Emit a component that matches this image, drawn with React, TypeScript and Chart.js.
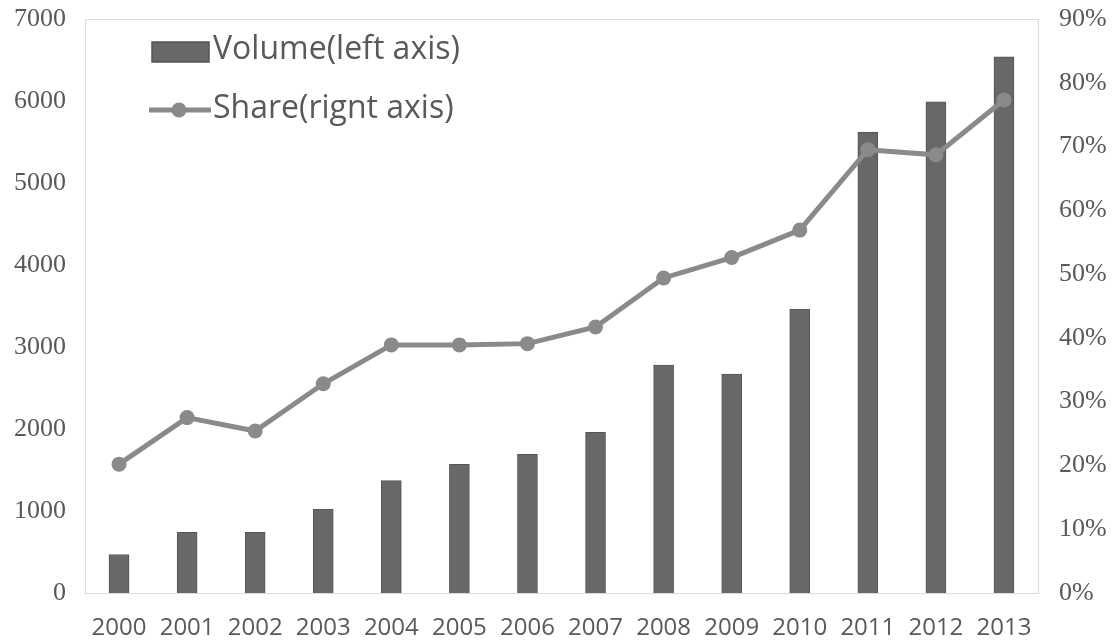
import React, { useEffect, useRef } from "react";
import { Chart, registerables } from "chart.js";

Chart.register(...registerables);

const years = ["2000", "2001", "2002", "2003", "2004", "2005", "2006", "2007", "2008", "2009", "2010", "2011", "2012", "2013"];
const volume = [470, 740, 740, 1020, 1370, 1570, 1690, 1960, 2780, 2670, 3460, 5620, 5990, 6540];
const share = [20.2, 27.5, 25.4, 32.8, 38.9, 38.9, 39.1, 41.7, 49.4, 52.6, 56.9, 69.5, 68.7, 77.3];
const volumeLabel = "Volume(left axis)";
const shareLabel = "Share(rignt axis)";

const BAR_FILL = "#686868";
const BAR_EDGE = "#555555";
const LINE_COLOR = "#8a8a8a";
const TEXT_COLOR = "#595959";

// Frame around the plot area plus the legend drawn inside it, top left.
const framePlugin = {
  id: "frameAndLegend",
  beforeDatasetsDraw(chart: any) {
    const { ctx, chartArea } = chart;
    ctx.save();
    ctx.strokeStyle = "#dcdcdc";
    ctx.lineWidth = 1;
    ctx.strokeRect(chartArea.left + 0.5, chartArea.top + 0.5, chartArea.right - chartArea.left, chartArea.bottom - chartArea.top);
    ctx.restore();
  },
  afterDraw(chart: any) {
    const { ctx } = chart;
    const ds = chart.data.datasets;
    ctx.save();
    ctx.font = "32px 'Open Sans'";
    ctx.textBaseline = "middle";
    // bar entry
    ctx.fillStyle = BAR_FILL;
    ctx.fillRect(152, 42, 57, 20);
    ctx.strokeStyle = BAR_EDGE;
    ctx.lineWidth = 1.5;
    ctx.strokeRect(152, 42, 57, 20);
    ctx.fillStyle = TEXT_COLOR;
    ctx.fillText(ds[0].label, 213, 50);
    // line entry
    ctx.strokeStyle = LINE_COLOR;
    ctx.lineWidth = 5;
    ctx.beginPath();
    ctx.moveTo(149, 110);
    ctx.lineTo(211, 110);
    ctx.stroke();
    ctx.fillStyle = LINE_COLOR;
    ctx.beginPath();
    ctx.arc(179, 110, 7.5, 0, Math.PI * 2);
    ctx.fill();
    ctx.fillStyle = TEXT_COLOR;
    ctx.fillText(ds[1].label, 213, 109);
    ctx.restore();
  },
};

// Vertical axes: fixed width, and no extra space reserved above/below for labels.
const fixVertical = (width: number) => (scale: any) => {
  scale.width = width;
  scale.paddingTop = 0;
  scale.paddingBottom = 0;
};

export default function App() {
  const canvasRef = useRef<HTMLCanvasElement | null>(null);

  useEffect(() => {
    if (!canvasRef.current) return;
    const chart = new Chart(canvasRef.current, {
      type: "bar",
      data: {
        labels: years,
        datasets: [
          {
            type: "bar",
            label: volumeLabel,
            data: volume,
            backgroundColor: BAR_FILL,
            borderColor: BAR_EDGE,
            borderWidth: 1,
            barThickness: 20,
            yAxisID: "y",
            order: 2,
          },
          {
            type: "line",
            label: shareLabel,
            data: share,
            borderColor: LINE_COLOR,
            backgroundColor: LINE_COLOR,
            borderWidth: 5,
            pointRadius: 7.5,
            pointBackgroundColor: LINE_COLOR,
            pointBorderWidth: 0,
            tension: 0,
            yAxisID: "y1",
            order: 1,
          },
        ],
      },
      options: {
        animation: false,
        responsive: false,
        layout: { padding: { top: 19, bottom: 0, left: 0, right: 0 }, autoPadding: false },
        plugins: {
          legend: { display: false },
          tooltip: { enabled: false },
        },
        scales: {
          x: {
            grid: { display: false, drawTicks: false },
            border: { display: true, color: "#d9d9d9" },
            ticks: {
              color: TEXT_COLOR,
              font: { family: "'Open Sans'", size: 24 },
              padding: 21,
              maxRotation: 0,
              autoSkip: false,
            },
            afterFit(scale: any) {
              scale.height = 49;
            },
          },
          y: {
            position: "left",
            min: 0,
            max: 7000,
            grid: { display: false, drawTicks: false },
            border: { display: true, color: "#d9d9d9" },
            ticks: {
              stepSize: 1000,
              color: TEXT_COLOR,
              font: { family: "'Liberation Serif'", size: 26 },
              padding: 19,
              callback: (v: any) => String(v),
            },
            afterFit: fixVertical(85),
          },
          y1: {
            position: "right",
            min: 0,
            max: 90,
            grid: { display: false, drawTicks: false },
            border: { display: false },
            ticks: {
              stepSize: 10,
              color: TEXT_COLOR,
              font: { family: "'Liberation Serif'", size: 26 },
              padding: 21,
              callback: (v: any) => `${v}%`,
            },
            afterFit: fixVertical(75),
          },
        },
      },
      plugins: [framePlugin],
    });
    return () => chart.destroy();
  }, []);

  return (
    <div style={{ position: "fixed", left: 0, top: 0, width: 1113, height: 642, background: "#fff" }}>
      <canvas ref={canvasRef} width={1113} height={642} />
    </div>
  );
}
